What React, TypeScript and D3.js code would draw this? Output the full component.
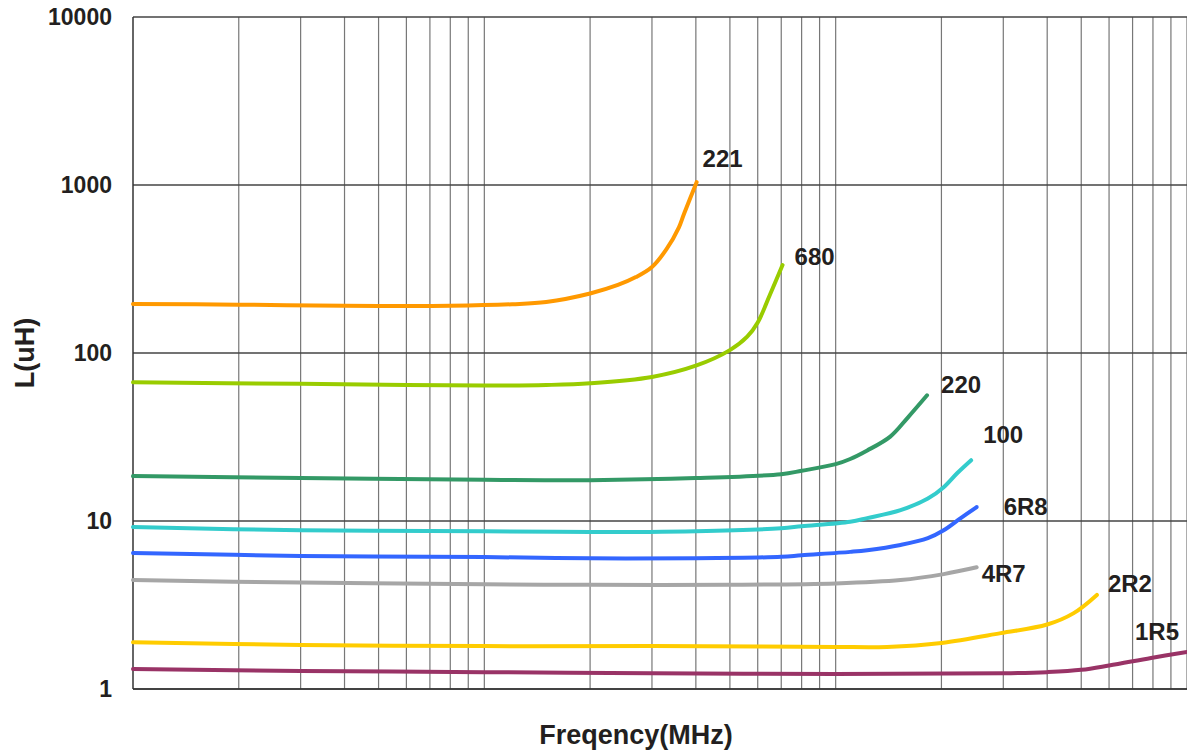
import React from "react";
import * as d3 from "d3";

const W = 1187;
const H = 753;

// y tick labels (decades of inductance)
const yTicks = [1, 10, 100, 1000, 10000];
// frequency domain (MHz), unlabeled log grid
const xDomain = [1, 1000];

const s221 = [[1,196],[2,194],[4,191],[8,191],[12,195],[15,201],[20,226],[24,254],[27,283],[30,325],[33,415],[35.8,560],[37,672],[40.2,1040]];
const s680 = [[1,67],[3,65.5],[6,64.5],[10,64],[15,64.5],[20,66],[30,72],[40,84],[50,104],[56,125],[60,152],[65,222],[70.6,334]];
const s220 = [[1,18.5],[3,18],[10,17.6],[20,17.5],[40,18],[70,19],[80,19.9],[100,21.8],[110,23.4],[123,26.3],[143,31.8],[160,41],[182,56]];
const s100 = [[1,9.2],[3,8.8],[10,8.7],[20,8.6],[40,8.7],[70,9.05],[80,9.3],[110,9.9],[123,10.4],[153,11.6],[183,13.6],[203,15.9],[222,19.3],[243,23]];
const s6R8 = [[1,6.45],[3,6.2],[10,6.1],[20,6.0],[40,6.0],[70,6.12],[80,6.25],[110,6.55],[123,6.7],[153,7.2],[183,7.9],[203,8.8],[227,10.4],[252,12.1]];
const s4R7 = [[1,4.45],[3,4.3],[10,4.2],[20,4.17],[50,4.17],[100,4.25],[153,4.45],[203,4.83],[252,5.3]];
const s2R2 = [[1,1.9],[3,1.83],[10,1.8],[30,1.8],[60,1.79],[100,1.78],[140,1.78],[200,1.88],[295,2.15],[400,2.42],[476,2.83],[554,3.63]];
const s1R5 = [[1,1.315],[3,1.28],[10,1.26],[30,1.24],[100,1.23],[300,1.24],[400,1.26],[500,1.3],[600,1.38],[790,1.53],[1000,1.66]];

const seriesNames = ["221", "680", "220", "100", "6R8", "4R7", "2R2", "1R5"];
const seriesData = [s221, s680, s220, s100, s6R8, s4R7, s2R2, s1R5];

// styles
const colors = ["#FF9900", "#99CC00", "#339966", "#33CCCC", "#3366FF", "#A6A6A6", "#FFCC00", "#993366"];
const labelOffsets = [[6, -15], [12, 0], [14, -2], [12, -17], [27, 8], [5, 15], [11, -3], [-52, -12]];

export default function App() {
  const m = { left: 133, right: 1187, top: 17, bottom: 689 };
  const x = d3.scaleLog().domain(xDomain).range([m.left, m.right]);
  const y = d3.scaleLog().domain([1, 10000]).range([m.bottom, m.top]);

  const xGrid: number[] = [];
  for (let d = 1; d < 1000; d *= 10) {
    for (let k = 2; k <= 10; k++) xGrid.push(d * k);
  }

  const line = d3
    .line<number[]>()
    .x((p) => x(p[0]))
    .y((p) => y(p[1]))
    .curve(d3.curveCatmullRom.alpha(0.5));

  const font = "'Liberation Sans', Arial, sans-serif";

  return (
    <svg width={W} height={H} style={{ position: "absolute", left: 0, top: 0, background: "#fff" }}>
      <rect x={0} y={0} width={W} height={H} fill="#fff" />
      {xGrid.map((v, i) => (
        <line key={"vx" + i} x1={x(v)} x2={x(v)} y1={m.top} y2={m.bottom} stroke="#777" strokeWidth={1.2} />
      ))}
      {yTicks.map((v, i) => (
        <line key={"hy" + i} x1={m.left} x2={m.right} y1={y(v)} y2={y(v)} stroke="#444" strokeWidth={1.3} />
      ))}
      <line x1={m.left} x2={m.left} y1={m.top} y2={m.bottom} stroke="#333" strokeWidth={1.5} />
      <line x1={m.left} x2={m.right} y1={m.bottom} y2={m.bottom} stroke="#333" strokeWidth={1.5} />
      {yTicks.map((v, i) => (
        <text key={"yt" + i} x={112} y={y(v)} dy="0.35em" textAnchor="end" fontFamily={font} fontWeight="bold" fontSize={23} fill="#231f20">
          {String(v)}
        </text>
      ))}
      {seriesData.map((s, i) => (
        <path key={"s" + i} d={line(s) || ""} fill="none" stroke={colors[i]} strokeWidth={4} strokeLinecap="round" />
      ))}
      {seriesData.map((s, i) => {
        const last = s[s.length - 1];
        return (
          <text key={"l" + i} x={x(last[0]) + labelOffsets[i][0]} y={y(last[1]) + labelOffsets[i][1]} fontFamily={font} fontWeight="bold" fontSize={24} fill="#231f20">
            {seriesNames[i]}
          </text>
        );
      })}
      <text x={636} y={744} textAnchor="middle" fontFamily={font} fontWeight="bold" fontSize={27} fill="#231f20">
        Freqency(MHz)
      </text>
      <text transform={`translate(34,353) rotate(-90)`} textAnchor="middle" fontFamily={font} fontWeight="bold" fontSize={27} fill="#231f20">
        L(uH)
      </text>
    </svg>
  );
}
